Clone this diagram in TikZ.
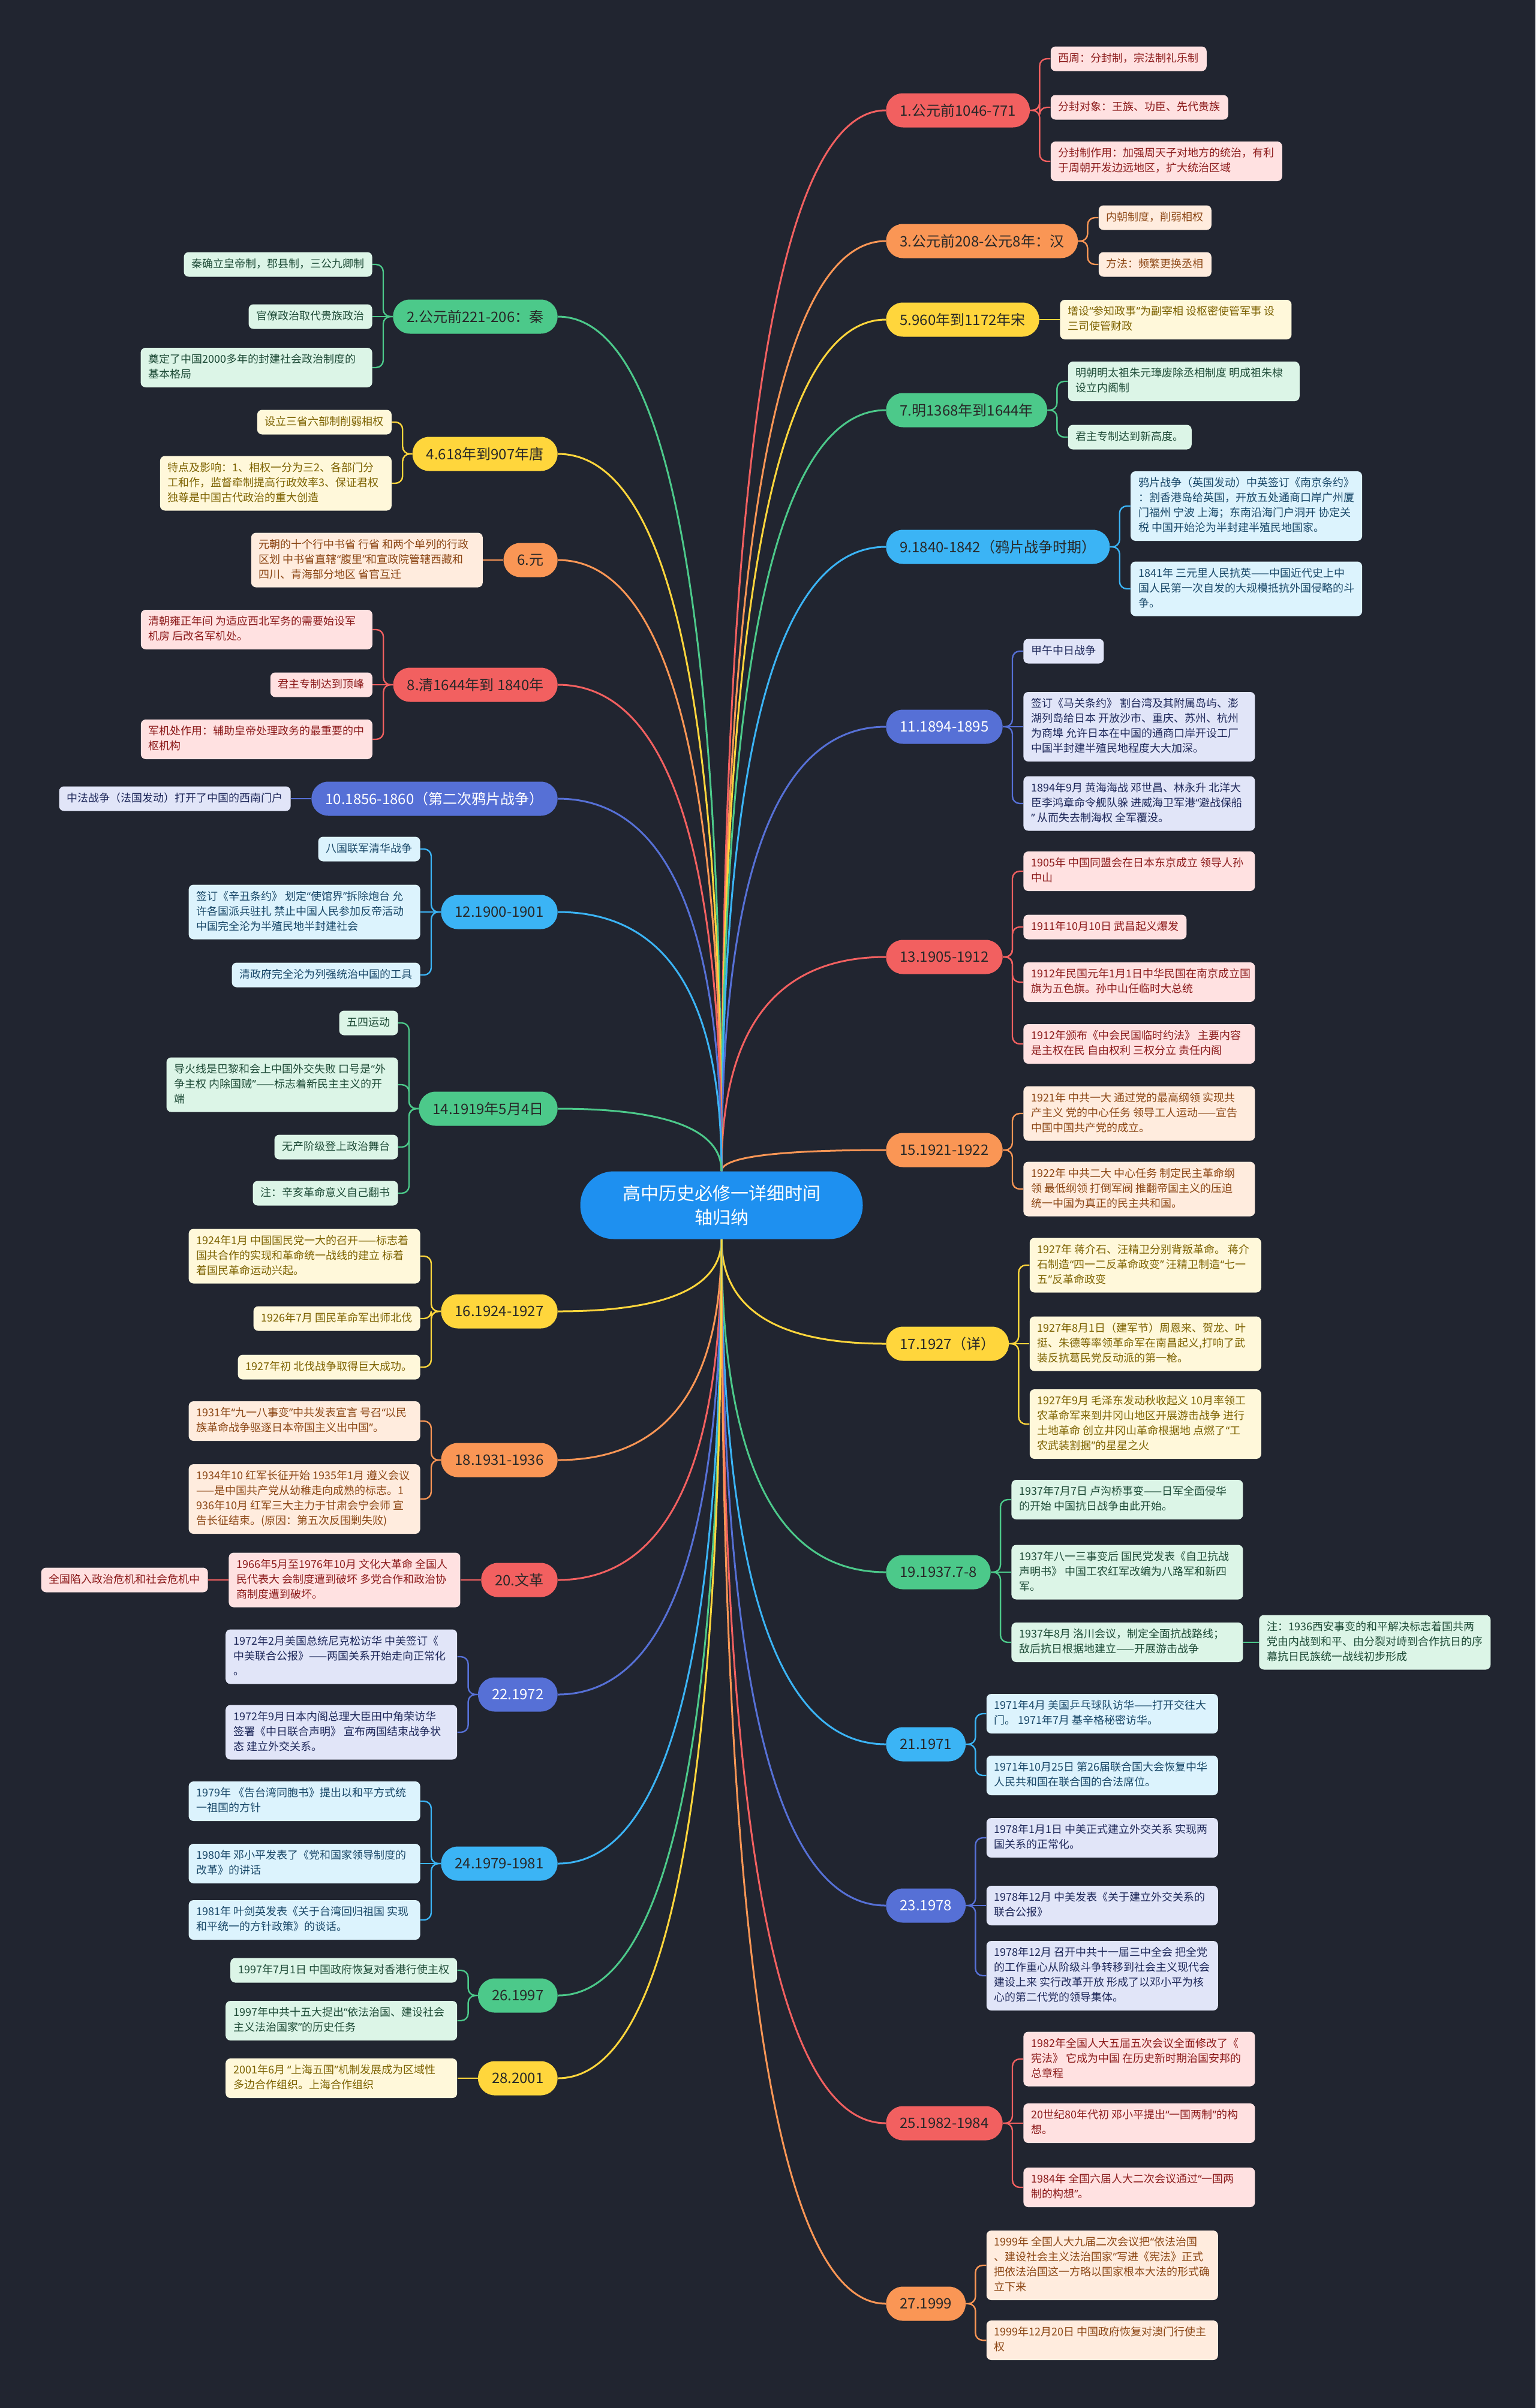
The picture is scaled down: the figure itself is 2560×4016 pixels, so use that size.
\documentclass[tikz,border=0pt]{standalone}
\usepackage{fontspec}
\setmainfont{Noto Sans CJK SC}
\newfontfamily\qf{Noto Sans}
\newcommand\QL{{\qf “}}
\newcommand\QR{{\qf ”}}
\usetikzlibrary{calc}
\setlength\parindent{0pt}
\definecolor{bgc}{RGB}{33,37,48}
\definecolor{cC}{RGB}{30,144,240}
\definecolor{txtdark}{RGB}{40,40,40}
\definecolor{cR}{RGB}{242,96,96}\definecolor{cRL}{RGB}{255,225,225}\definecolor{cRT}{RGB}{140,26,26}
\definecolor{cO}{RGB}{250,150,85}\definecolor{cOL}{RGB}{255,236,222}\definecolor{cOT}{RGB}{140,70,20}
\definecolor{cY}{RGB}{255,214,60}\definecolor{cYL}{RGB}{255,248,218}\definecolor{cYT}{RGB}{125,98,0}
\definecolor{cG}{RGB}{76,201,138}\definecolor{cGL}{RGB}{220,245,231}\definecolor{cGT}{RGB}{30,75,55}
\definecolor{cB}{RGB}{59,180,245}\definecolor{cBL}{RGB}{220,243,253}\definecolor{cBT}{RGB}{25,72,105}
\definecolor{cI}{RGB}{86,112,214}\definecolor{cIL}{RGB}{225,229,248}\definecolor{cIT}{RGB}{30,40,90}
\newcommand\kone[1]{\begin{tabular}{@{}l@{}}#1\end{tabular}}
\newcommand\kmany[1]{\makebox[180pt][l]{\kone{#1}}}
\pgfdeclarelayer{bg}\pgfdeclarelayer{edges}\pgfsetlayers{bg,edges,main}
\tikzset{
 kd/.style={rounded corners=4pt, inner xsep=6.5pt, inner ysep=4pt, font=\fontsize{9}{12.5}\selectfont, fill=#1L, text=#1T},
 rk/.style={kd=#1, anchor=west, xshift=17pt},
 lk/.style={kd=#1, anchor=east, xshift=-17pt},
 branch/.style={rounded corners=14pt, minimum height=28.5pt, inner xsep=11.5pt, inner ysep=2pt, font=\fontsize{12}{14}\selectfont},
 br/.style={branch, fill=#1, text=txtdark},
 brw/.style={branch, fill=#1, text=white},
 ed/.style={draw=#1, line width=1.2pt, rounded corners=6pt},
}
\newcommand\CC[3]{\draw[draw=#1, line width=1.5pt] let \p1=(#2), \p2=(#3) in (\p1) .. controls (\x1,{\y1+0.6667*((\y2)-(\y1))}) and ({\x2-0.6667*((\x2)-(\x1))},\y2) .. (\p2);}
\newcommand\RC[3]{\draw[ed=#1] (#2.east) -- ++(8pt,0) |- (#3.west);}
\newcommand\LC[3]{\draw[ed=#1] (#2.west) -- ++(-8pt,0) |- (#3.east);}
\newcommand\RS[3]{\draw[ed=#1] (#2.east) -- (#3.west);}
\newcommand\LS[3]{\draw[ed=#1] (#2.west) -- (#3.east);}
\begin{document}
\begin{tikzpicture}[x=0.5pt,y=-0.5pt]
\useasboundingbox (0,0) rectangle (2560,4016);
\begin{pgfonlayer}{bg}\fill[bgc] (0,0) rectangle (2560,4016);\end{pgfonlayer}

\node[fill=cC, text=white, rounded corners=28pt, minimum width=235.5pt, minimum height=56.5pt, align=center, font=\fontsize{15}{20}\selectfont] (c) at (1203,2010) {高中历史必修一详细时间\\轴归纳};

% ---------- right side ----------
\node[br=cR, anchor=west] (b1) at (1477,184) {1.公元前1046-771};
\node[rk=cR] (b1a) at (b1.east |- 0,98) {\kone{西周：分封制，宗法制礼乐制}};
\node[rk=cR] (b1b) at (b1.east |- 0,179) {\kone{分封对象：王族、功臣、先代贵族}};
\node[rk=cR] (b1c) at (b1.east |- 0,269) {\kmany{分封制作用：加强周天子对地方的统治，有利\\于周朝开发边远地区，扩大统治区域}};

\node[br=cO, anchor=west] (b3) at (1477,402) {3.公元前208-公元8年：汉};
\node[rk=cO] (b3a) at (b3.east |- 0,363) {\kone{内朝制度，削弱相权}};
\node[rk=cO] (b3b) at (b3.east |- 0,441) {\kone{方法：频繁更换丞相}};

\node[br=cY, anchor=west] (b5) at (1477,533) {5.960年到1172年宋};
\node[rk=cY] (b5a) at (b5.east |- 0,533) {\kmany{增设\QL{}参知政事\QR{}为副宰相 设枢密使管军事 设\\三司使管财政}};

\node[br=cG, anchor=west] (b7) at (1477,684) {7.明1368年到1644年};
\node[rk=cG] (b7a) at (b7.east |- 0,636) {\kmany{明朝明太祖朱元璋废除丞相制度 明成祖朱棣\\设立内阁制}};
\node[rk=cG] (b7b) at (b7.east |- 0,729) {\kone{君主专制达到新高度。}};

\node[br=cB, anchor=west] (b9) at (1477,912) {9.1840-1842（鸦片战争时期）};
\node[rk=cB] (b9a) at (b9.east |- 0,844) {\kmany{鸦片战争（英国发动）中英签订《南京条约》\\：割香港岛给英国，开放五处通商口岸广州厦\\门福州 宁波 上海；东南沿海门户洞开 协定关\\税 中国开始沦为半封建半殖民地国家。}};
\node[rk=cB] (b9b) at (b9.east |- 0,982) {\kmany{1841年 三元里人民抗英——中国近代史上中\\国人民第一次自发的大规模抵抗外国侵略的斗\\争。}};

\node[brw=cI, anchor=west] (b11) at (1477,1212) {11.1894-1895};
\node[rk=cI] (b11a) at (b11.east |- 0,1086) {\kone{甲午中日战争}};
\node[rk=cI] (b11b) at (b11.east |- 0,1212) {\kmany{签订《马关条约》 割台湾及其附属岛屿、澎\\湖列岛给日本 开放沙市、重庆、苏州、杭州\\为商埠 允许日本在中国的通商口岸开设工厂\\中国半封建半殖民地程度大大加深。}};
\node[rk=cI] (b11c) at (b11.east |- 0,1340) {\kmany{1894年9月 黄海海战 邓世昌、林永升 北洋大\\臣李鸿章命令舰队躲 进威海卫军港\QL{}避战保船\\\QR{} 从而失去制海权 全军覆没。}};

\node[br=cR, anchor=west] (b13) at (1477,1596) {13.1905-1912};
\node[rk=cR] (b13a) at (b13.east |- 0,1453) {\kmany{1905年 中国同盟会在日本东京成立 领导人孙\\中山}};
\node[rk=cR] (b13b) at (b13.east |- 0,1546) {\kone{1911年10月10日 武昌起义爆发}};
\node[rk=cR] (b13c) at (b13.east |- 0,1638) {\kmany{1912年民国元年1月1日中华民国在南京成立国\\旗为五色旗。孙中山任临时大总统}};
\node[rk=cR] (b13d) at (b13.east |- 0,1741) {\kmany{1912年颁布《中会民国临时约法》 主要内容\\是主权在民 自由权利 三权分立 责任内阁}};

\node[br=cO, anchor=west] (b15) at (1477,1918) {15.1921-1922};
\node[rk=cO] (b15a) at (b15.east |- 0,1857) {\kmany{1921年 中共一大 通过党的最高纲领 实现共\\产主义 党的中心任务 领导工人运动——宣告\\中国中国共产党的成立。}};
\node[rk=cO] (b15b) at (b15.east |- 0,1983) {\kmany{1922年 中共二大 中心任务 制定民主革命纲\\领 最低纲领 打倒军阀 推翻帝国主义的压迫\\统一中国为真正的民主共和国。}};

\node[br=cY, anchor=west] (b17) at (1477,2241) {17.1927（详）};
\node[rk=cY] (b17a) at (b17.east |- 0,2110) {\kmany{1927年 蒋介石、汪精卫分别背叛革命。 蒋介\\石制造\QL{}四一二反革命政变\QR{} 汪精卫制造\QL{}七一\\五\QR{}反革命政变}};
\node[rk=cY] (b17b) at (b17.east |- 0,2241) {\kmany{1927年8月1日（建军节）周恩来、贺龙、叶\\挺、朱德等率领革命军在南昌起义,打响了武\\装反抗葛民党反动派的第一枪。}};
\node[rk=cY] (b17c) at (b17.east |- 0,2375) {\kmany{1927年9月 毛泽东发动秋收起义 10月率领工\\农革命军来到井冈山地区开展游击战争 进行\\土地革命 创立井冈山革命根据地 点燃了\QL{}工\\农武装割据\QR{}的星星之火}};

\node[br=cG, anchor=west] (b19) at (1477,2622) {19.1937.7-8};
\node[rk=cG] (b19a) at (b19.east |- 0,2501) {\kmany{1937年7月7日 卢沟桥事变——日军全面侵华\\的开始 中国抗日战争由此开始。}};
\node[rk=cG] (b19b) at (b19.east |- 0,2622) {\kmany{1937年八一三事变后 国民党发表《自卫抗战\\声明书》 中国工农红军改编为八路军和新四\\军。}};
\node[rk=cG] (b19c) at (b19.east |- 0,2739) {\kmany{1937年8月 洛川会议，制定全面抗战路线；\\敌后抗日根据地建立——开展游击战争}};
\node[kd=cG, anchor=west, xshift=13pt] (b19n) at (b19c.east) {\kmany{注：1936西安事变的和平解决标志着国共两\\党由内战到和平、由分裂对峙到合作抗日的序\\幕抗日民族统一战线初步形成}};

\node[br=cB, anchor=west] (b21) at (1477,2909) {21.1971};
\node[rk=cB] (b21a) at (b21.east |- 0,2858) {\kmany{1971年4月 美国乒乓球队访华——打开交往大\\门。 1971年7月 基辛格秘密访华。}};
\node[rk=cB] (b21b) at (b21.east |- 0,2961) {\kmany{1971年10月25日 第26届联合国大会恢复中华\\人民共和国在联合国的合法席位。}};

\node[brw=cI, anchor=west] (b23) at (1477,3178) {23.1978};
\node[rk=cI] (b23a) at (b23.east |- 0,3065) {\kmany{1978年1月1日 中美正式建立外交关系 实现两\\国关系的正常化。}};
\node[rk=cI] (b23b) at (b23.east |- 0,3178) {\kmany{1978年12月 中美发表《关于建立外交关系的\\联合公报》}};
\node[rk=cI] (b23c) at (b23.east |- 0,3295) {\kmany{1978年12月 召开中共十一届三中全会 把全党\\的工作重心从阶级斗争转移到社会主义现代会\\建设上来 实行改革开放 形成了以邓小平为核\\心的第二代党的领导集体。}};

\node[br=cR, anchor=west] (b25) at (1477,3541) {25.1982-1984};
\node[rk=cR] (b25a) at (b25.east |- 0,3434) {\kmany{1982年全国人大五届五次会议全面修改了《\\宪法》 它成为中国 在历史新时期治国安邦的\\总章程}};
\node[rk=cR] (b25b) at (b25.east |- 0,3541) {\kmany{20世纪80年代初 邓小平提出\QL{}一国两制\QR{}的构\\想。}};
\node[rk=cR] (b25c) at (b25.east |- 0,3648) {\kmany{1984年 全国六届人大二次会议通过\QL{}一国两\\制的构想\QR{}。}};

\node[br=cO, anchor=west] (b27) at (1477,3842) {27.1999};
\node[rk=cO] (b27a) at (b27.east |- 0,3778) {\kmany{1999年 全国人大九届二次会议把\QL{}依法治国\\、建设社会主义法治国家\QR{}写进《宪法》正式\\把依法治国这一方略以国家根本大法的形式确\\立下来}};
\node[rk=cO] (b27b) at (b27.east |- 0,3903) {\kmany{1999年12月20日 中国政府恢复对澳门行使主\\权}};

% ---------- left side ----------
\node[br=cG, anchor=east] (b2) at (930,528) {2.公元前221-206：秦};
\node[lk=cG] (b2a) at (b2.west |- 0,441) {\kone{秦确立皇帝制，郡县制，三公九卿制}};
\node[lk=cG] (b2b) at (b2.west |- 0,528) {\kone{官僚政治取代贵族政治}};
\node[lk=cG] (b2c) at (b2.west |- 0,613) {\kmany{奠定了中国2000多年的封建社会政治制度的\\基本格局}};

\node[br=cY, anchor=east] (b4) at (930,757) {4.618年到907年唐};
\node[lk=cY] (b4a) at (b4.west |- 0,704) {\kone{设立三省六部制削弱相权}};
\node[lk=cY] (b4b) at (b4.west |- 0,806) {\kmany{特点及影响：1、相权一分为三2、各部门分\\工和作，监督牵制提高行政效率3、保证君权\\独尊是中国古代政治的重大创造}};

\node[br=cO, anchor=east] (b6) at (930,934) {6.元};
\node[lk=cO] (b6a) at (b6.west |- 0,934) {\kmany{元朝的十个行中书省 行省 和两个单列的行政\\区划 中书省直辖\QL{}腹里\QR{}和宣政院管辖西藏和\\四川、青海部分地区 省官互迁}};

\node[br=cR, anchor=east] (b8) at (930,1142) {8.清1644年到 1840年};
\node[lk=cR] (b8a) at (b8.west |- 0,1050) {\kmany{清朝雍正年间 为适应西北军务的需要始设军\\机房 后改名军机处。}};
\node[lk=cR] (b8b) at (b8.west |- 0,1142) {\kone{君主专制达到顶峰}};
\node[lk=cR] (b8c) at (b8.west |- 0,1233) {\kmany{军机处作用：辅助皇帝处理政务的最重要的中\\枢机构}};

\node[brw=cI, anchor=east] (b10) at (930,1332) {10.1856-1860（第二次鸦片战争）};
\node[lk=cI] (b10a) at (b10.west |- 0,1332) {\kone{中法战争（法国发动）打开了中国的西南门户}};

\node[br=cB, anchor=east] (b12) at (930,1521) {12.1900-1901};
\node[lk=cB] (b12a) at (b12.west |- 0,1416) {\kone{八国联军清华战争}};
\node[lk=cB] (b12b) at (b12.west |- 0,1521) {\kmany{签订《辛丑条约》 划定\QL{}使馆界\QR{}拆除炮台 允\\许各国派兵驻扎 禁止中国人民参加反帝活动\\中国完全沦为半殖民地半封建社会}};
\node[lk=cB] (b12c) at (b12.west |- 0,1626) {\kone{清政府完全沦为列强统治中国的工具}};

\node[br=cG, anchor=east] (b14) at (930,1849) {14.1919年5月4日};
\node[lk=cG] (b14a) at (b14.west |- 0,1706) {\kone{五四运动}};
\node[lk=cG] (b14b) at (b14.west |- 0,1809) {\kmany{导火线是巴黎和会上中国外交失败 口号是\QL{}外\\争主权 内除国贼\QR{}——标志着新民主主义的开\\端}};
\node[lk=cG] (b14c) at (b14.west |- 0,1913) {\kone{无产阶级登上政治舞台}};
\node[lk=cG] (b14d) at (b14.west |- 0,1990) {\kone{注：辛亥革命意义自己翻书}};

\node[br=cY, anchor=east] (b16) at (930,2187) {16.1924-1927};
\node[lk=cY] (b16a) at (b16.west |- 0,2095) {\kmany{1924年1月 中国国民党一大的召开——标志着\\国共合作的实现和革命统一战线的建立 标着\\着国民革命运动兴起。}};
\node[lk=cY] (b16b) at (b16.west |- 0,2199) {\kone{1926年7月 国民革命军出师北伐}};
\node[lk=cY] (b16c) at (b16.west |- 0,2280) {\kone{1927年初 北伐战争取得巨大成功。}};

\node[br=cO, anchor=east] (b18) at (930,2435) {18.1931-1936};
\node[lk=cO] (b18a) at (b18.west |- 0,2370) {\kmany{1931年\QL{}九一八事变\QR{}中共发表宣言 号召\QL{}以民\\族革命战争驱逐日本帝国主义出中国\QR{}。}};
\node[lk=cO] (b18b) at (b18.west |- 0,2500) {\kmany{1934年10 红军长征开始 1935年1月 遵义会议\\——是中国共产党从幼稚走向成熟的标志。1\\936年10月 红军三大主力于甘肃会宁会师 宣\\告长征结束。(原因：第五次反围剿失败)}};

\node[br=cR, anchor=east] (b20) at (930,2635) {20.文革};
\node[lk=cR] (b20a) at (b20.west |- 0,2635) {\kmany{1966年5月至1976年10月 文化大革命 全国人\\民代表大 会制度遭到破坏 多党合作和政治协\\商制度遭到破坏。}};
\node[lk=cR] (b20g) at (b20a.west) {\kone{全国陷入政治危机和社会危机中}};

\node[brw=cI, anchor=east] (b22) at (930,2826) {22.1972};
\node[lk=cI] (b22a) at (b22.west |- 0,2763) {\kmany{1972年2月美国总统尼克松访华 中美签订《\\中美联合公报》——两国关系开始走向正常化\\。}};
\node[lk=cI] (b22b) at (b22.west |- 0,2889) {\kmany{1972年9月日本内阁总理大臣田中角荣访华\\签署《中日联合声明》 宣布两国结束战争状\\态 建立外交关系。}};

\node[br=cB, anchor=east] (b24) at (930,3108) {24.1979-1981};
\node[lk=cB] (b24a) at (b24.west |- 0,3004) {\kmany{1979年 《告台湾同胞书》提出以和平方式统\\一祖国的方针}};
\node[lk=cB] (b24b) at (b24.west |- 0,3108) {\kmany{1980年 邓小平发表了《党和国家领导制度的\\改革》的讲话}};
\node[lk=cB] (b24c) at (b24.west |- 0,3202) {\kmany{1981年 叶剑英发表《关于台湾回归祖国 实现\\和平统一的方针政策》的谈话。}};

\node[br=cG, anchor=east] (b26) at (930,3328) {26.1997};
\node[lk=cG] (b26a) at (b26.west |- 0,3286) {\kone{1997年7月1日 中国政府恢复对香港行使主权}};
\node[lk=cG] (b26b) at (b26.west |- 0,3370) {\kmany{1997年中共十五大提出\QL{}依法治国、建设社会\\主义法治国家\QR{}的历史任务}};

\node[br=cY, anchor=east] (b28) at (930,3466) {28.2001};
\node[lk=cY] (b28a) at (b28.west |- 0,3466) {\kmany{2001年6月 \QL{}上海五国\QR{}机制发展成为区域性\\多边合作组织。上海合作组织}};

% ---------- connectors ----------
\begin{pgfonlayer}{edges}
\CC{cR}{c.north}{b1.west}
\CC{cO}{c.north}{b3.west}
\CC{cY}{c.north}{b5.west}
\CC{cG}{c.north}{b7.west}
\CC{cB}{c.north}{b9.west}
\CC{cI}{c.north}{b11.west}
\CC{cR}{c.north}{b13.west}
\CC{cO}{c.north}{b15.west}
\CC{cY}{c.south}{b17.west}
\CC{cG}{c.south}{b19.west}
\CC{cB}{c.south}{b21.west}
\CC{cI}{c.south}{b23.west}
\CC{cR}{c.south}{b25.west}
\CC{cO}{c.south}{b27.west}
\CC{cG}{c.north}{b2.east}
\CC{cY}{c.north}{b4.east}
\CC{cO}{c.north}{b6.east}
\CC{cR}{c.north}{b8.east}
\CC{cI}{c.north}{b10.east}
\CC{cB}{c.north}{b12.east}
\CC{cG}{c.north}{b14.east}
\CC{cY}{c.south}{b16.east}
\CC{cO}{c.south}{b18.east}
\CC{cR}{c.south}{b20.east}
\CC{cI}{c.south}{b22.east}
\CC{cB}{c.south}{b24.east}
\CC{cG}{c.south}{b26.east}
\CC{cY}{c.south}{b28.east}
% right children
\RC{cR}{b1}{b1a}\RC{cR}{b1}{b1b}\RC{cR}{b1}{b1c}
\RC{cO}{b3}{b3a}\RC{cO}{b3}{b3b}
\RS{cY}{b5}{b5a}
\RC{cG}{b7}{b7a}\RC{cG}{b7}{b7b}
\RC{cB}{b9}{b9a}\RC{cB}{b9}{b9b}
\RC{cI}{b11}{b11a}\RS{cI}{b11}{b11b}\RC{cI}{b11}{b11c}
\RC{cR}{b13}{b13a}\RC{cR}{b13}{b13b}\RC{cR}{b13}{b13c}\RC{cR}{b13}{b13d}
\RC{cO}{b15}{b15a}\RC{cO}{b15}{b15b}
\RC{cY}{b17}{b17a}\RS{cY}{b17}{b17b}\RC{cY}{b17}{b17c}
\RC{cG}{b19}{b19a}\RS{cG}{b19}{b19b}\RC{cG}{b19}{b19c}
\RS{cG}{b19c}{b19n}
\RC{cB}{b21}{b21a}\RC{cB}{b21}{b21b}
\RC{cI}{b23}{b23a}\RS{cI}{b23}{b23b}\RC{cI}{b23}{b23c}
\RC{cR}{b25}{b25a}\RS{cR}{b25}{b25b}\RC{cR}{b25}{b25c}
\RC{cO}{b27}{b27a}\RC{cO}{b27}{b27b}
% left children
\LC{cG}{b2}{b2a}\LS{cG}{b2}{b2b}\LC{cG}{b2}{b2c}
\LC{cY}{b4}{b4a}\LC{cY}{b4}{b4b}
\LS{cO}{b6}{b6a}
\LC{cR}{b8}{b8a}\LS{cR}{b8}{b8b}\LC{cR}{b8}{b8c}
\LS{cI}{b10}{b10a}
\LC{cB}{b12}{b12a}\LS{cB}{b12}{b12b}\LC{cB}{b12}{b12c}
\LC{cG}{b14}{b14a}\LC{cG}{b14}{b14b}\LC{cG}{b14}{b14c}\LC{cG}{b14}{b14d}
\LC{cY}{b16}{b16a}\LC{cY}{b16}{b16b}\LC{cY}{b16}{b16c}
\LC{cO}{b18}{b18a}\LC{cO}{b18}{b18b}
\LS{cR}{b20}{b20a}\LS{cR}{b20a}{b20g}
\LC{cI}{b22}{b22a}\LC{cI}{b22}{b22b}
\LC{cB}{b24}{b24a}\LS{cB}{b24}{b24b}\LC{cB}{b24}{b24c}
\LC{cG}{b26}{b26a}\LC{cG}{b26}{b26b}
\LS{cY}{b28}{b28a}
\end{pgfonlayer}
\end{tikzpicture}
\end{document}
